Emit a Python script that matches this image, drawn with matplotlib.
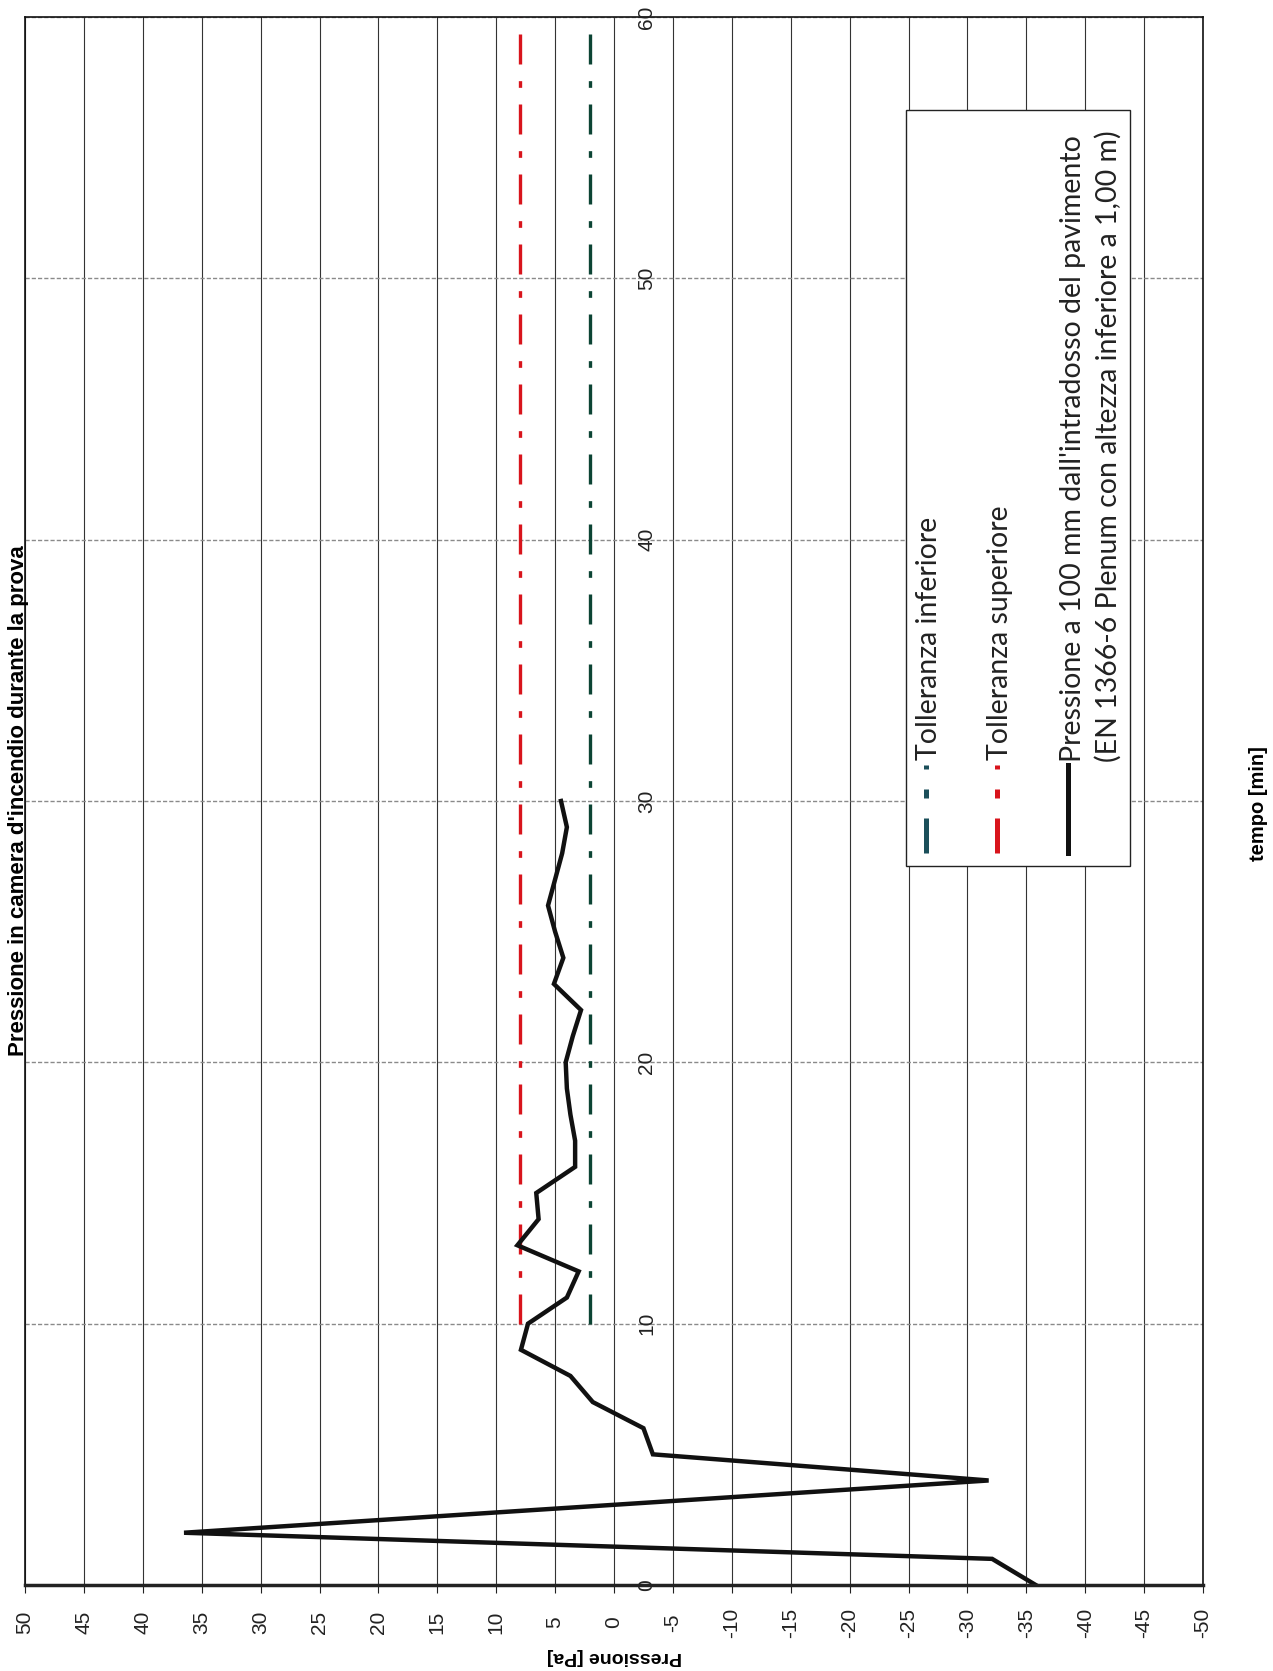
import numpy as np
import matplotlib.pyplot as plt
from matplotlib.patches import Rectangle
from matplotlib.lines import Line2D

# tempo [min] / pressione misurata [Pa]
tempo = [0, 1, 2, 4, 5, 6, 7, 8, 9, 10, 11, 12, 13, 14, 15, 16, 17, 18, 19, 20,
         21, 22, 23, 24, 25, 26, 27, 28, 29, 30]
pressione = [-35.8, -32.1, 36.5, -31.8, -3.3, -2.5, 1.8, 3.7, 7.9, 7.3, 4.0, 3.0,
             8.2, 6.4, 6.6, 3.3, 3.3, 3.7, 4.0, 4.1, 3.5, 2.8, 5.1, 4.3, 5.0, 5.6,
             5.0, 4.4, 4.0, 4.5]

# tolleranze
tempo_toll = [10, 60]
toll_superiore = [8, 8]
toll_inferiore = [2, 2]

press_ticks = np.arange(-50, 55, 5)
tempo_ticks = [0, 10, 20, 30, 40, 50, 60]

W, H = 1273, 1671
RED = '#d8141c'
GREEN = '#0c4434'
TEAL = '#1b4f5a'

def fx(px):
    return px / W

def fy(py):
    return 1 - py / H

fig = plt.figure(figsize=(W / 100, H / 100), dpi=100)
left, right, top, bottom = 25, 1203, 17, 1585
ax = fig.add_axes([fx(left), fy(bottom), fx(right - left), (bottom - top) / H])

# grafico ruotato: pressione in orizzontale, tempo in verticale
ax.set_xlim(50, -50)
ax.set_ylim(0, 60)

ax.set_xticks(press_ticks)
ax.set_xticklabels([str(v) for v in press_ticks], rotation=90, va='center',
                   fontsize=15, family='Liberation Sans')
ax.tick_params(axis='x', direction='out', length=6, width=0.8, pad=21, colors='#222')
ax.set_yticks(tempo_ticks)
ax.tick_params(axis='y', length=0, labelleft=False)

ax.grid(axis='x', color='#333333', lw=0.8)
ax.grid(axis='y', color='#8a8a8a', lw=1.0, ls=(0, (3, 1.5)))
ax.set_axisbelow(True)

for s in ['left', 'right', 'top']:
    ax.spines[s].set_linewidth(1.2)
    ax.spines[s].set_color('#111')
ax.spines['bottom'].set_linewidth(2.5)
ax.spines['bottom'].set_color('#222')

ax.plot(toll_superiore, tempo_toll, color=RED, lw=2.4, dashes=(9, 5, 2, 5))
ax.plot(toll_inferiore, tempo_toll, color=GREEN, lw=2.4, dashes=(9, 5, 2, 5))
ax.plot(pressione, tempo, color='#111111', lw=3.2, solid_joinstyle='miter')

# etichette del tempo lungo la linea dello zero
for t in tempo_ticks:
    ax.text(-2.8, t, str(t), rotation=90, ha='center', va='center', fontsize=15,
            family='Liberation Sans', color='#222', clip_on=False)

fig.text(fx(19), fy(801), "Pressione in camera d'incendio durante la prova",
         rotation=90, ha='center', va='center', fontsize=16, fontweight='bold',
         family='Liberation Sans')
fig.text(fx(1258), fy(804), 'tempo [min]', rotation=90, ha='center', va='center',
         fontsize=14.5, fontweight='bold', family='Liberation Sans')
fig.text(fx(614), fy(1656), 'Pressione [Pa]', rotation=180, ha='center', va='center',
         fontsize=14, fontweight='bold', family='Liberation Sans')

# legenda
fig.patches.append(Rectangle((fx(906), fy(866)), fx(1130 - 906), (866 - 110) / H,
                             transform=fig.transFigure, fill=True, facecolor='white',
                             edgecolor='#222', lw=1.0, zorder=5))
leg_font = dict(rotation=90, ha='center', va='bottom', fontsize=20.5,
                family='Lato', color='#222', zorder=6)
fig.lines.append(Line2D([fx(926), fx(926)], [fy(853), fy(765)], transform=fig.transFigure,
                        color=TEAL, lw=3.6, dashes=(7, 4, 1.8, 4), zorder=6))
fig.text(fx(929), fy(760), 'Tolleranza inferiore', **leg_font)
fig.lines.append(Line2D([fx(997), fx(997)], [fy(853), fy(765)], transform=fig.transFigure,
                        color=RED, lw=3.6, dashes=(7, 4, 1.8, 4), zorder=6))
fig.text(fx(1000), fy(760), 'Tolleranza superiore', **leg_font)
fig.lines.append(Line2D([fx(1068), fx(1068)], [fy(853), fy(765)], transform=fig.transFigure,
                        color='#111', lw=3.6, zorder=6))
fig.text(fx(1073), fy(762), "Pressione a 100 mm dall'intradosso del pavimento", **leg_font)
fig.text(fx(1108), fy(762), "(EN 1366-6 Plenum con altezza inferiore a 1,00 m)", **leg_font)

fig.savefig('out.png', dpi=100)
